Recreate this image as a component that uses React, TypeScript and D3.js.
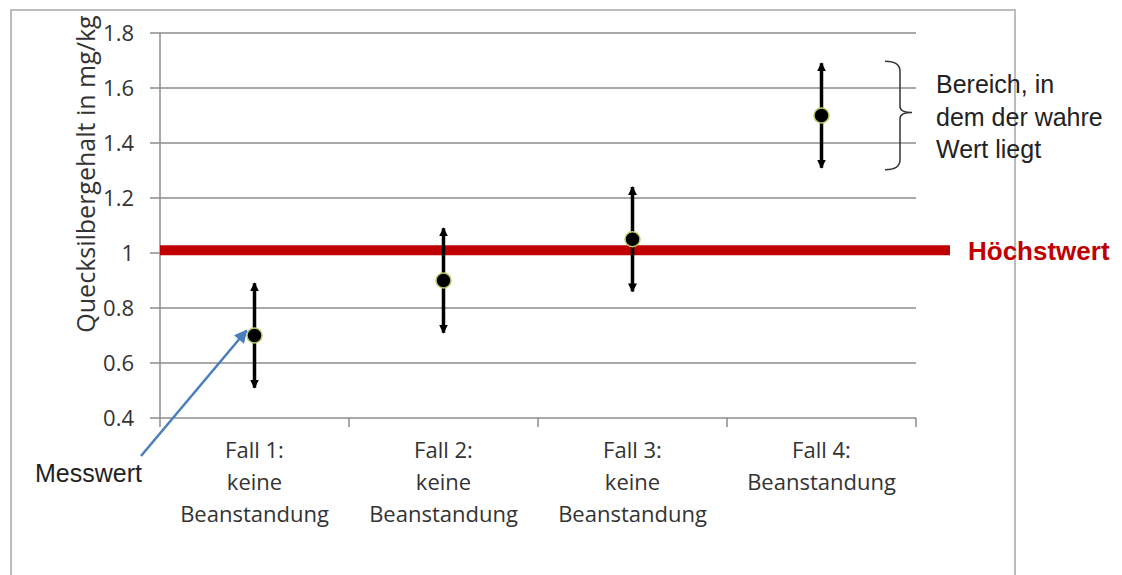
import React from 'react';
import * as d3 from 'd3';

const categories = [
  ['Fall 1:', 'keine', 'Beanstandung'],
  ['Fall 2:', 'keine', 'Beanstandung'],
  ['Fall 3:', 'keine', 'Beanstandung'],
  ['Fall 4:', 'Beanstandung'],
];
const measured = [0.7, 0.9, 1.05, 1.5];
const lower = [0.51, 0.71, 0.86, 1.31];
const upper = [0.89, 1.09, 1.24, 1.69];
const limitValue = 1.01;
const yTicks = [0.4, 0.6, 0.8, 1, 1.2, 1.4, 1.6, 1.8];
const annotationLines = ['Bereich, in', 'dem der wahre', 'Wert liegt'];

const W = 1122;
const H = 575;
const sans = "'Open Sans', sans-serif";
const arial = "'Liberation Sans', Arial, sans-serif";

const App: React.FC = () => {
  const margin = { left: 160, right: 206, top: 33, bottom: 157 };
  const x = d3.scaleBand<number>()
    .domain(d3.range(categories.length))
    .range([margin.left, W - margin.right]);
  const y = d3.scaleLinear().domain([0.4, 1.8]).range([H - margin.bottom, margin.top]);
  const x0 = margin.left;
  const x1 = W - margin.right;
  const yBase = y(0.4);

  // brace beside Fall 4's range
  const bTop = y(upper[3]) - 2;
  const bBot = y(lower[3]) + 2;
  const bMid = y(measured[3]) - 3;
  const bx = 900;
  const brace = `M${bx - 15},${bTop} Q${bx},${bTop} ${bx},${bTop + 10} L${bx},${bMid - 6} Q${bx},${bMid} ${bx + 12},${bMid}` +
    ` M${bx + 12},${bMid} Q${bx},${bMid} ${bx},${bMid + 6} L${bx},${bBot - 10} Q${bx},${bBot} ${bx - 15},${bBot}`;

  return (
    <svg width={W} height={H} style={{ position: 'absolute', left: 0, top: 0, background: '#fff' }}>
      <defs>
        <marker id="ah" viewBox="0 0 10 10" refX="9" refY="5" markerWidth="9" markerHeight="11"
          markerUnits="userSpaceOnUse" orient="auto-start-reverse">
          <path d="M0,0 L10,5 L0,10 Z" fill="#000" />
        </marker>
        <marker id="blue" viewBox="0 0 10 10" refX="9" refY="5" markerWidth="16" markerHeight="13"
          markerUnits="userSpaceOnUse" orient="auto">
          <path d="M0,0 L10,5 L0,10 Z" fill="#4a7ebb" />
        </marker>
      </defs>

      {/* outer frame */}
      <path d={`M11,${H} L11,10 L1015,10 L1015,${H}`} fill="none" stroke="#a6a6a6" strokeWidth={1.5} />

      {/* gridlines and y ticks */}
      {yTicks.map(t => (
        <g key={t}>
          <line x1={x0 - 10} x2={x1} y1={y(t)} y2={y(t)} stroke="#8c8c8c" strokeWidth={1.5} />
          <text x={x0 - 26} y={y(t)} dy="0.36em" textAnchor="end" fontFamily={sans}
            fontSize={22} fill="#333">{d3.format('~g')(t)}</text>
        </g>
      ))}
      <line x1={x0} x2={x0} y1={y(1.8)} y2={yBase} stroke="#8c8c8c" strokeWidth={1.5} />
      {d3.range(categories.length + 1).map(i => {
        const xx = i < categories.length ? x(i)! : x1;
        return <line key={i} x1={xx} x2={xx} y1={yBase} y2={yBase + 9} stroke="#8c8c8c" strokeWidth={1.5} />;
      })}

      <text transform="translate(95,174) rotate(-90)" textAnchor="middle"
        fontFamily={sans} fontSize={25} fill="#333">Quecksilbergehalt in mg/kg</text>

      {/* category labels */}
      {categories.map((lines, i) => (
        <text key={i} x={x(i)! + x.bandwidth() / 2} textAnchor="middle" fontFamily={sans} fontSize={22} fill="#333">
          {lines.map((l, j) => (
            <tspan key={j} x={x(i)! + x.bandwidth() / 2} y={458 + j * 32}>{l}</tspan>
          ))}
        </text>
      ))}

      {/* limit */}
      <line x1={x0} x2={950} y1={y(limitValue)} y2={y(limitValue)} stroke="#c00000" strokeWidth={10} />
      <text x={968} y={y(limitValue)} dy="0.36em" fontFamily={arial} fontWeight="bold" fontSize={26} fill="#c00000">Höchstwert</text>

      {/* error bars and points */}
      {measured.map((v, i) => {
        const cx = x(i)! + x.bandwidth() / 2;
        return (
          <g key={i}>
            <line x1={cx} x2={cx} y1={y(v)} y2={y(upper[i])} stroke="#000" strokeWidth={3.5} markerEnd="url(#ah)" />
            <line x1={cx} x2={cx} y1={y(v)} y2={y(lower[i])} stroke="#000" strokeWidth={3.5} markerEnd="url(#ah)" />
            <circle cx={cx} cy={y(v)} r={7.5} fill="#000" stroke="#b5cc6a" strokeWidth={1.5} />
          </g>
        );
      })}

      {/* annotations */}
      <path d={brace} fill="none" stroke="#333" strokeWidth={1.5} />
      <text fontFamily={arial} fontSize={25} fill="#222">
        {annotationLines.map((l, j) => (
          <tspan key={j} x={936} y={93 + j * 32.5}>{l}</tspan>
        ))}
      </text>
      <line x1={141} y1={456} x2={x(0)! + x.bandwidth() / 2 - 8} y2={y(measured[0]) - 5}
        stroke="#4a7ebb" strokeWidth={2.5} markerEnd="url(#blue)" />
      <text x={35} y={482} fontFamily={arial} fontSize={25} fill="#222">Messwert</text>
    </svg>
  );
};

export default App;
